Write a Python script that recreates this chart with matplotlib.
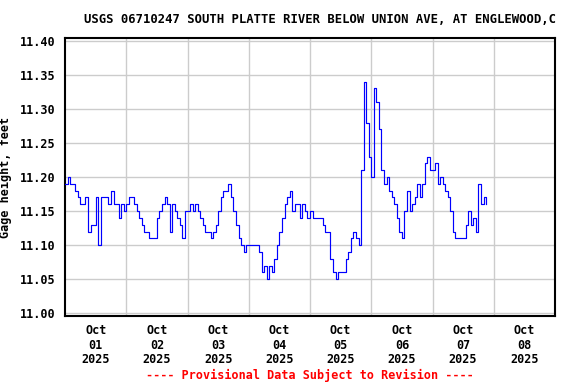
import numpy as np
import pandas as pd
import matplotlib
matplotlib.use("Agg")
import matplotlib.pyplot as plt
import matplotlib.dates as mdates

# hourly gage height (feet)
oct01 = [11.19, 11.20, 11.19, 11.19, 11.18, 11.17, 11.16, 11.16, 11.17, 11.12, 11.13, 11.13,
         11.17, 11.10, 11.17, 11.17, 11.17, 11.16, 11.18, 11.16, 11.16, 11.14, 11.16, 11.15]
oct02 = [11.16, 11.17, 11.17, 11.16, 11.15, 11.14, 11.13, 11.12, 11.12, 11.11, 11.11, 11.11,
         11.14, 11.15, 11.16, 11.17, 11.16, 11.12, 11.16, 11.15, 11.14, 11.13, 11.11, 11.15]
oct03 = [11.15, 11.16, 11.15, 11.16, 11.15, 11.14, 11.13, 11.12, 11.12, 11.11, 11.12, 11.13,
         11.15, 11.17, 11.18, 11.18, 11.19, 11.17, 11.15, 11.13, 11.11, 11.10, 11.09, 11.10]
oct04 = [11.10, 11.10, 11.10, 11.10, 11.09, 11.06, 11.07, 11.05, 11.07, 11.06, 11.08, 11.10,
         11.12, 11.14, 11.16, 11.17, 11.18, 11.15, 11.16, 11.16, 11.14, 11.16, 11.15, 11.14]
oct05 = [11.15, 11.14, 11.14, 11.14, 11.14, 11.13, 11.12, 11.12, 11.08, 11.06, 11.05, 11.06,
         11.06, 11.06, 11.08, 11.09, 11.11, 11.12, 11.11, 11.10, 11.21, 11.34, 11.28, 11.23]
oct06 = [11.20, 11.33, 11.31, 11.27, 11.21, 11.19, 11.20, 11.18, 11.17, 11.16, 11.14, 11.12,
         11.11, 11.15, 11.18, 11.15, 11.16, 11.17, 11.19, 11.17, 11.19, 11.22, 11.23, 11.21]
oct07 = [11.21, 11.22, 11.19, 11.20, 11.19, 11.18, 11.17, 11.15, 11.12, 11.11, 11.11, 11.11,
         11.11, 11.13, 11.15, 11.13, 11.14, 11.12, 11.19, 11.16, 11.17, 11.16]

gage = oct01 + oct02 + oct03 + oct04 + oct05 + oct06 + oct07
times = pd.date_range("2025-10-01 00:00", periods=len(gage), freq="h")

day_labels = ["Oct\n01\n2025", "Oct\n02\n2025", "Oct\n03\n2025", "Oct\n04\n2025",
              "Oct\n05\n2025", "Oct\n06\n2025", "Oct\n07\n2025", "Oct\n08\n2025"]
y_ticks = [11.00, 11.05, 11.10, 11.15, 11.20, 11.25, 11.30, 11.35, 11.40]

title = "USGS 06710247 SOUTH PLATTE RIVER BELOW UNION AVE, AT ENGLEWOOD,C"
font = {"family": "DejaVu Sans Mono", "weight": "bold", "size": 8.5}

fig = plt.figure(figsize=(5.76, 3.84), dpi=100)
ax = fig.add_axes([0.113, 0.177, 0.8505, 0.724])

ax.plot(times, gage, color="#0000ff", lw=0.85, drawstyle="steps-post", zorder=3)

ax.set_xlim(pd.Timestamp("2025-10-01"), pd.Timestamp("2025-10-09"))
ax.set_ylim(10.996, 11.404)

# gridlines at midnight, labels at noon
ax.set_xticks(pd.date_range("2025-10-02", periods=7, freq="D"))
ax.set_xticklabels([])
ax.set_xticks(pd.date_range("2025-10-01 12:00", periods=8, freq="D"), minor=True)
ax.set_xticklabels(day_labels, minor=True, fontdict=font, linespacing=1.15)
ax.set_yticks(y_ticks)
ax.set_yticklabels([f"{v:.2f}" for v in y_ticks], fontdict=font)
ax.tick_params(which="both", length=0)
ax.tick_params(axis="x", which="minor", pad=6)
ax.tick_params(axis="y", pad=7)
ax.grid(True, which="major", color="#cccccc", lw=1.0)

for s in ax.spines.values():
    s.set_linewidth(1.5)
    s.set_color("black")

ax.set_ylabel("Gage height, feet", fontdict=font)
ax.yaxis.set_label_coords(-0.108, 0.5)
fig.text(0.556, 0.950, title, ha="center", va="center",
         family="DejaVu Sans Mono", weight="bold", size=8.85)
fig.text(0.538, 0.021, "---- Provisional Data Subject to Revision ----",
         ha="center", va="center", color="red", **font)

fig.savefig("out.png", dpi=100)
